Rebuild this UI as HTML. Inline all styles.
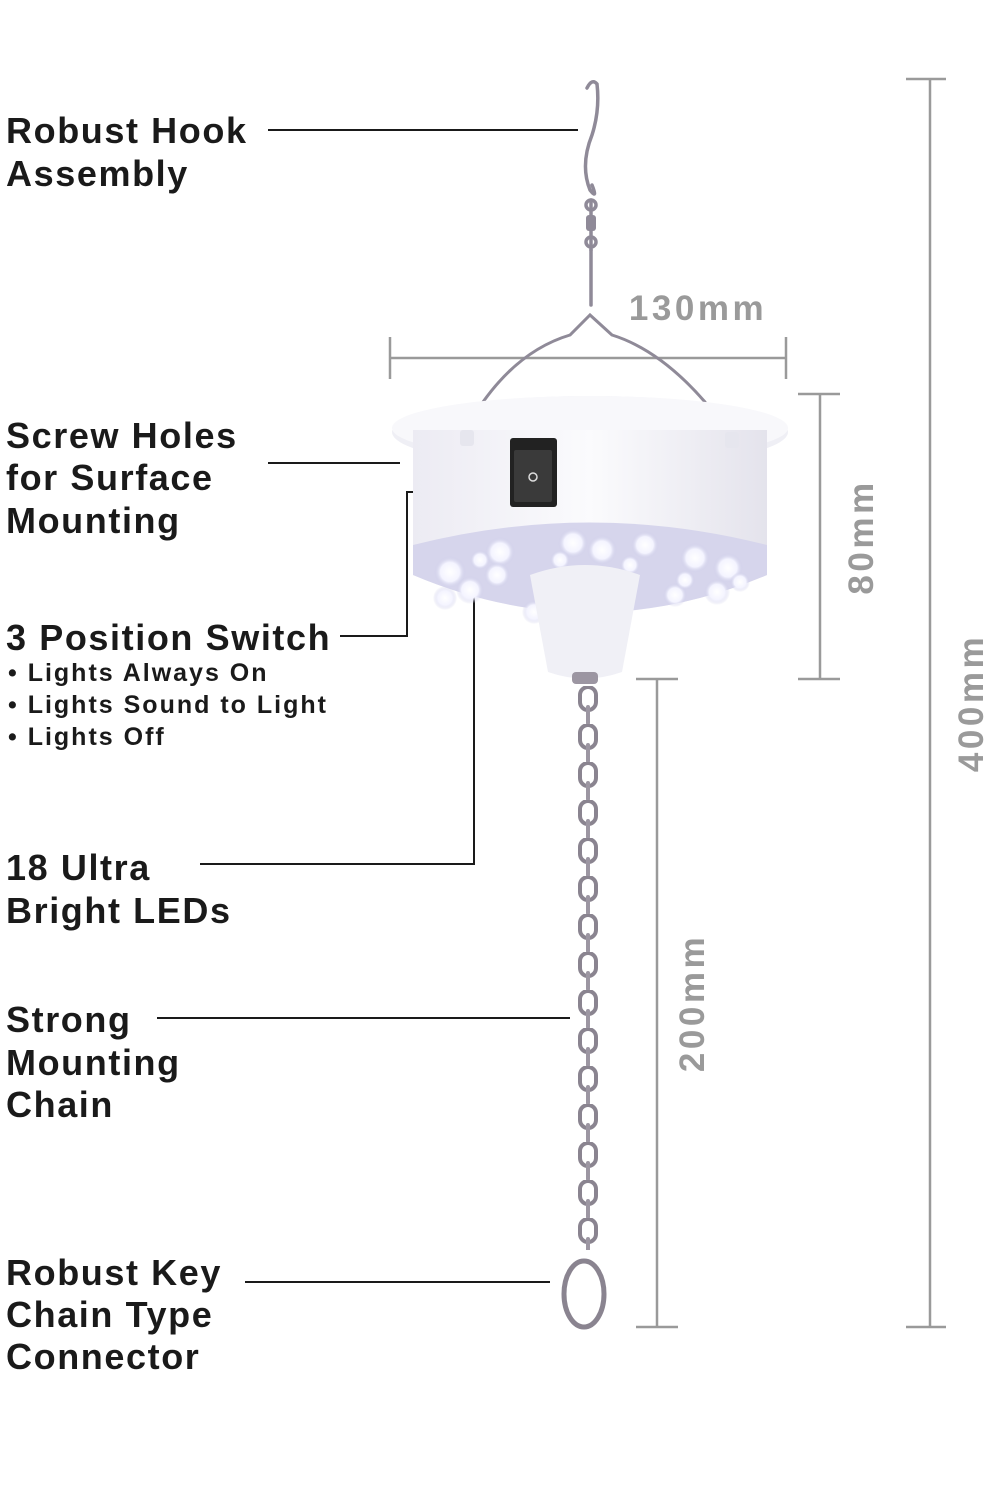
<!DOCTYPE html>
<html><head><meta charset="utf-8"><style>
html,body{margin:0;padding:0;background:#fff;}
svg{display:block;}
.t{font-family:"Liberation Sans",sans-serif;font-weight:bold;fill:#1a1a1a;}
.g{font-family:"Liberation Sans",sans-serif;font-weight:bold;fill:#9a9a9a;}
</style></head><body>
<svg width="1000" height="1500" viewBox="0 0 1000 1500" xmlns="http://www.w3.org/2000/svg">
<defs>
<pattern id="chain" x="570" y="686" width="36" height="38" patternUnits="userSpaceOnUse">
<rect x="10" y="1" width="16" height="23" rx="8" fill="none" stroke="#8a8490" stroke-width="4"/>
<rect x="16" y="19" width="4" height="20" rx="2" fill="#9c96a2"/>
</pattern>
<linearGradient id="bod" x1="0" x2="1"><stop offset="0" stop-color="#ecebf3"/><stop offset=".5" stop-color="#fbfbfd"/><stop offset="1" stop-color="#e4e3ec"/></linearGradient>
<radialGradient id="led" cx=".5" cy=".5" r=".5"><stop offset="0" stop-color="#fff"/><stop offset=".6" stop-color="#f4f4ff"/><stop offset="1" stop-color="#c9c9e6" stop-opacity="0"/></radialGradient>
</defs>

<g class="t" font-size="36" letter-spacing="1.6">
<text x="6" y="143">Robust Hook</text>
<text x="6" y="186">Assembly</text>
<text x="6" y="448">Screw Holes</text>
<text x="6" y="490">for Surface</text>
<text x="6" y="533">Mounting</text>
<text x="6" y="650">3 Position Switch</text>
<text x="6" y="880">18 Ultra</text>
<text x="6" y="923">Bright LEDs</text>
<text x="6" y="1032">Strong</text>
<text x="6" y="1075">Mounting</text>
<text x="6" y="1117">Chain</text>
<text x="6" y="1285">Robust Key</text>
<text x="6" y="1327">Chain Type</text>
<text x="6" y="1369">Connector</text>
</g>
<g class="t" font-size="25" letter-spacing="2">
<text x="8" y="681">• Lights Always On</text>
<text x="8" y="713">• Lights Sound to Light</text>
<text x="8" y="745">• Lights Off</text>
</g>

<g stroke="#1a1a1a" stroke-width="2" fill="none">
<line x1="268" y1="130" x2="578" y2="130"/>
<line x1="268" y1="463" x2="400" y2="463"/>
<polyline points="340,636 407,636 407,492 498,492"/>
<polyline points="200,864 474,864 474,590"/>
<line x1="157" y1="1018" x2="570" y2="1018"/>
<line x1="245" y1="1282" x2="550" y2="1282"/>
</g>

<g stroke="#9a9a9a" stroke-width="2.5" fill="none">
<line x1="390" y1="358" x2="786" y2="358"/><line x1="390" y1="337" x2="390" y2="379"/><line x1="786" y1="337" x2="786" y2="379"/>
<line x1="820" y1="394" x2="820" y2="679"/><line x1="798" y1="394" x2="840" y2="394"/><line x1="798" y1="679" x2="840" y2="679"/>
<line x1="657" y1="679" x2="657" y2="1327"/><line x1="636" y1="679" x2="678" y2="679"/><line x1="636" y1="1327" x2="678" y2="1327"/>
<line x1="930" y1="79" x2="930" y2="1327"/><line x1="906" y1="79" x2="946" y2="79"/><line x1="906" y1="1327" x2="946" y2="1327"/>
</g>
<g class="g" font-size="35" letter-spacing="3.5">
<text x="698" y="320" text-anchor="middle">130mm</text>
<text transform="translate(873,537) rotate(-90)" text-anchor="middle">80mm</text>
<text transform="translate(704,1003) rotate(-90)" text-anchor="middle">200mm</text>
<text transform="translate(983,703) rotate(-90)" text-anchor="middle">400mm</text>
</g>

<g stroke="#8f8a98" stroke-width="3.5" fill="none" stroke-linecap="round">
<path d="M587,88 Q592,78 597,84 Q600,110 592,135 Q580,165 590,190 Q598,200 592,185"/>
<line x1="591" y1="200" x2="591" y2="250"/>
<circle cx="591" cy="205" r="5"/><circle cx="591" cy="242" r="5"/>
<line x1="591" y1="250" x2="591" y2="305"/>
<path d="M483,402 Q520,350 570,335 L590,315 L612,335 Q660,350 705,402" stroke-width="3"/>
</g>
<rect x="586" y="215" width="10" height="16" rx="3" fill="#8f8a98"/>

<ellipse cx="590" cy="432" rx="198" ry="36" fill="#efeff5"/>
<ellipse cx="590" cy="428" rx="198" ry="32" fill="#f8f8fb"/>
<path d="M413,430 L413,575 Q590,650 767,575 L767,430 Z" fill="url(#bod)"/>
<path d="M413,545 Q590,500 767,545 L767,575 Q590,650 413,575 Z" fill="#d6d5ec"/>
<rect x="460" y="430" width="14" height="16" rx="3" fill="#e6e6ee"/>
<rect x="725" y="432" width="14" height="16" rx="3" fill="#e6e6ee"/>
<rect x="510" y="438" width="47" height="69" rx="3" fill="#222"/>
<rect x="514" y="450" width="38" height="52" rx="2" fill="#3a3a3a"/>
<circle cx="533" cy="477" r="4" fill="none" stroke="#ddd" stroke-width="1.5"/>
<g fill="url(#led)">
<circle cx="450" cy="572" r="16"/><circle cx="470" cy="590" r="14"/><circle cx="500" cy="552" r="15"/><circle cx="497" cy="575" r="13"/>
<circle cx="573" cy="543" r="15"/><circle cx="602" cy="550" r="15"/><circle cx="645" cy="545" r="14"/><circle cx="695" cy="558" r="15"/>
<circle cx="728" cy="568" r="15"/><circle cx="717" cy="592" r="13"/><circle cx="675" cy="595" r="12"/><circle cx="534" cy="612" r="12"/>
<circle cx="445" cy="598" r="12"/><circle cx="560" cy="560" r="10"/><circle cx="630" cy="565" r="10"/><circle cx="685" cy="580" r="10"/>
<circle cx="480" cy="560" r="10"/><circle cx="740" cy="582" r="10"/>
</g>
<path d="M530,575 Q585,555 640,575 L622,672 Q585,685 548,672 Z" fill="#f0f0f6"/>
<rect x="572" y="672" width="26" height="12" rx="4" fill="#9c96a2"/>

<rect x="570" y="686" width="36" height="564" fill="url(#chain)"/>
<ellipse cx="584" cy="1294" rx="20" ry="33" fill="none" stroke="#8a8490" stroke-width="5"/>
</svg>
</body></html>
